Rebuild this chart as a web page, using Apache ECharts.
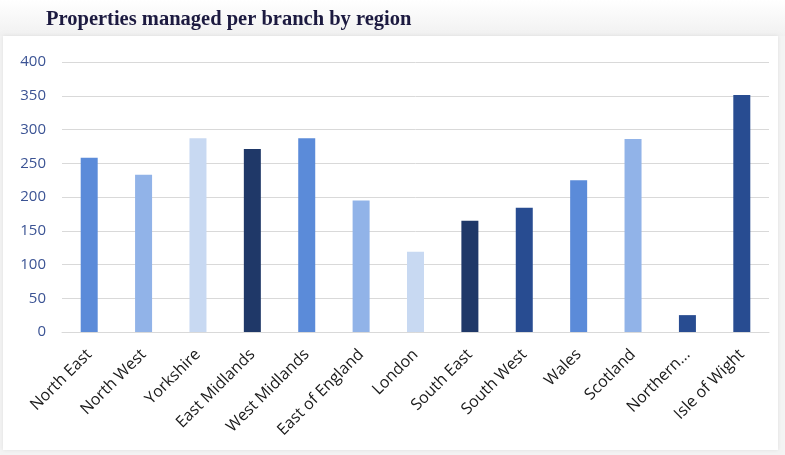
<!DOCTYPE html>
<html><head><meta charset="utf-8">
<script src="https://cdn.jsdelivr.net/npm/echarts@6/dist/echarts.min.js"></script>
<style>html,body{margin:0;padding:0;background:#f4f4f4;}#c{width:785px;height:455px;}</style>
</head><body><div id="c"></div>
<script>
const categories = ['North East','North West','Yorkshire','East Midlands','West Midlands','East of England','London','South East','South West','Wales','Scotland','Northern...','Isle of Wight'];
const values = [258, 233, 287, 271, 287, 195, 119, 165, 184, 225, 286, 25, 351];
const barColors = ['#5b8bd9','#91b3e8','#c8d9f2','#1f3868','#5b8bd9','#91b3e8','#c8d9f2','#1f3868','#284c91','#5b8bd9','#91b3e8','#284c91','#284c91'];
const yTicks = [0,50,100,150,200,250,300,350,400];

const chart = echarts.init(document.getElementById('c'), null, {renderer:'canvas'});
chart.setOption({
  backgroundColor: '#f4f4f4',
  animation: false,
  graphic: [
    {type:'rect', left:0, top:0, shape:{width:785, height:36}, style:{fill:new echarts.graphic.LinearGradient(0,0,0,1,[{offset:0,color:'#ffffff'},{offset:1,color:'#f1f1f1'}])}, z:-10},
    {type:'rect', left:3, top:36, shape:{width:775, height:414}, style:{fill:'#ffffff', shadowBlur:4, shadowColor:'rgba(0,0,0,0.08)'}, z:-5}
  ],
  title: {
    text: 'Properties managed per branch by region',
    left: 41, top: 4,
    textStyle: {fontFamily:'Liberation Serif', fontWeight:'bold', fontSize:20.5, color:'#1c1a40'}
  },
  grid: {left:62, right:16, top:62, bottom:123, containLabel:false},
  xAxis: {
    type:'category', data: categories,
    axisLine:{show:true, lineStyle:{color:'#d9d9d9', width:1}},
    axisTick:{show:false},
    axisLabel:{rotate:45, interval:0, color:'#1a1a1a', fontFamily:'Open Sans', fontSize:16, margin:20}
  },
  yAxis: {
    type:'value', min:yTicks[0], max:yTicks[yTicks.length-1], interval:50,
    axisLine:{show:false}, axisTick:{show:false},
    splitLine:{lineStyle:{color:'#d9d9d9', width:1}},
    axisLabel:{color:'#3b5394', fontFamily:'Open Sans', fontSize:15, margin:16}
  },
  series: [{
    type:'bar',
    data: values.map((v,i)=>({value:v, itemStyle:{color:barColors[i]}})),
    barWidth: 17
  }]
});
</script></body></html>
